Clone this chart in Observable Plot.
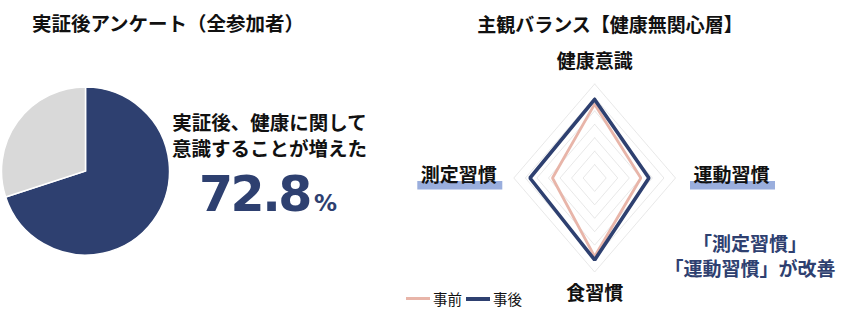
<!DOCTYPE html>
<html><head><meta charset="utf-8">
<script src="https://cdn.jsdelivr.net/npm/d3@7"></script>
<script src="https://cdn.jsdelivr.net/npm/@observablehq/plot@0.6"></script>
<style>
body{margin:0;background:#fff;}
#wrap{position:relative;width:852px;height:315px;overflow:hidden;font-family:"Noto Sans CJK JP",sans-serif;color:#111;}
.abs{position:absolute;white-space:nowrap;line-height:1;}
.c{transform:translateX(-50%);text-align:center;}
</style></head><body>
<div id="wrap"></div>
<script>
// ---- data ----
const pieCategories = ["増えた", "その他"];
const pieValues = [70, 30];
const pieColors = ["#2e4070", "#d9d9d9"];
const headlineValue = "72.8";
const radarAxes = ["健康意識", "運動習慣", "食習慣", "測定習慣"];
const seriesNames = ["事前", "事後"];
const beforeValues = [5.5, 4.0, 5.85, 3.65];
const afterValues = [5.85, 4.7, 6.1, 5.6];
const gridLevels = [1, 2, 3, 4, 5, 6, 7];
const highlightedAxes = ["運動習慣", "測定習慣"];
const seriesColors = ["#e8b5a9", "#2e4070"];
const navy = "#2e4070";

const wrap = document.getElementById("wrap");
function place(node, left, top, w, h) {
  const d = document.createElement("div");
  d.style.position = "absolute"; d.style.left = left + "px"; d.style.top = top + "px";
  d.style.width = w + "px"; d.style.height = h + "px";
  d.appendChild(node); wrap.appendChild(d);
}
// cy = vertical centre of the first line
function text(html, {x, cy, size, weight = "bold", color = "#111", center = true, lh = null}) {
  const d = document.createElement("div");
  d.className = "abs" + (center ? " c" : "");
  const L = lh || size;
  d.style.lineHeight = L + "px";
  d.style.left = x + "px"; d.style.top = (cy - L / 2) + "px";
  d.style.fontSize = size + "px"; d.style.fontWeight = weight; d.style.color = color;
  d.innerHTML = html; wrap.appendChild(d);
}

// ---- pie ----
const pieTable = pieCategories.map((c, i) => ({category: c, value: pieValues[i], color: pieColors[i]}));
function pieMark(index, scales) {
  const cx = scales.x(0), cy = scales.y(0), r = scales.x(1) - cx;
  const arcs = d3.pie().sort(null).value(d => d.value)(pieTable);
  const g = d3.create("svg:g").attr("transform", `translate(${cx},${cy})`);
  g.selectAll("path").data(arcs).join("path")
    .attr("d", d3.arc().innerRadius(0).outerRadius(r))
    .attr("fill", d => d.data.color).attr("stroke", "#fff").attr("stroke-width", 1.5);
  return g.node();
}
const piePlot = Plot.plot({
  width: 400, height: 315, margin: 0,
  x: {domain: [-1, 1], range: [1.5, 169.5], axis: null},
  y: {domain: [-1, 1], range: [255, 87], axis: null},
  marks: [
    Plot.dot([{x: -1, y: -1}, {x: 1, y: 1}], {x: "x", y: "y", r: 0, stroke: "none"}),
    pieMark
  ]
});
place(piePlot, 0, 0, 400, 315);

// ---- radar ----
const dirs = radarAxes.map((a, i) => ({sx: Math.sin(i * Math.PI / 2), sy: Math.cos(i * Math.PI / 2)}));
const gridData = gridLevels.flatMap(k => [0, 1, 2, 3, 0].map(i => ({level: k, x: k * dirs[i].sx, y: k * dirs[i].sy})));
const seriesData = seriesNames.flatMap((s, si) => {
  const vals = si === 0 ? beforeValues : afterValues;
  return [0, 1, 2, 3, 0].map(i => ({series: s, x: vals[i] * dirs[i].sx, y: vals[i] * dirs[i].sy}));
});
const maxLevel = d3.max(gridLevels);
const labelData = radarAxes.map((a, i) => ({axis: a, x: maxLevel * dirs[i].sx, y: maxLevel * dirs[i].sy}));
const labelOpts = [
  {textAnchor: "middle", dy: -22},
  {textAnchor: "start", dx: 18, dy: -2},
  {textAnchor: "middle", dy: 22},
  {textAnchor: "end", dx: -17, dy: -2}
];
function highlightMark(index, scales) {
  const g = d3.create("svg:g");
  labelData.forEach((d, i) => {
    if (!highlightedAxes.includes(d.axis)) return;
    const px = scales.x(d.x), py = scales.y(d.y);
    const x0 = dirs[i].sx > 0 ? px + 15 : px - 96;
    g.append("rect").attr("x", x0).attr("y", py + 3.5).attr("width", 85).attr("height", 8.5)
      .attr("fill", "#9aaedd");
  });
  return g.node();
}
const radarPlot = Plot.plot({
  width: 452, height: 315, margin: 0,
  x: {domain: [-7, 7], range: [113.3, 275], axis: null},
  y: {domain: [-7, 7], range: [271.5, 83.5], axis: null},
  marks: [
    Plot.line(gridData, {x: "x", y: "y", z: "level", stroke: "#e2e2e2", strokeWidth: 0.8}),
    Plot.line(seriesData.filter(d => d.series === seriesNames[0]), {x: "x", y: "y", stroke: seriesColors[0], strokeWidth: 2.8, strokeLinejoin: "miter"}),
    Plot.line(seriesData.filter(d => d.series === seriesNames[1]), {x: "x", y: "y", stroke: seriesColors[1], strokeWidth: 3.6, strokeLinejoin: "miter"}),
    highlightMark,
    ...labelData.map((d, i) => Plot.text([d], {x: "x", y: "y", text: "axis", fontSize: 19, fontWeight: "bold", fill: "#111",
      fontFamily: "Noto Sans CJK JP", ...labelOpts[i]}))
  ]
});
place(radarPlot, 400, 0, 452, 315);

// ---- texts ----
text("実証後アンケート（全参加者）", {x: 168, cy: 23, size: 19.5});
text("主観バランス【健康無関心層】", {x: 610, cy: 23, size: 19});
text("実証後、健康に関して<br>意識することが増えた", {x: 269.5, cy: 122, size: 19.5, lh: 26.5});
const big = document.createElement("div");
big.className = "abs";
big.style.fontFamily = "'DejaVu Sans', sans-serif";
big.style.left = "199px"; big.style.top = (215 - 0.928 * 49) + "px";
big.style.fontSize = "49px"; big.style.fontWeight = "bold"; big.style.color = navy; big.style.letterSpacing = "-2.5px";
big.innerHTML = headlineValue + `<span style="font-size:23px;letter-spacing:0;margin-left:4px">%</span>`;
wrap.appendChild(big);
text("「測定習慣」<br>「運動習慣」が改善", {x: 750, cy: 242, size: 19, color: navy, lh: 25});

// legend
const leg = document.createElement("div");
leg.className = "abs";
leg.style.left = "406px"; leg.style.top = (299 - 7.5) + "px"; leg.style.fontSize = "14.5px"; leg.style.fontWeight = "normal";
leg.style.display = "flex"; leg.style.alignItems = "center";
leg.innerHTML = seriesNames.map((s, i) =>
  `<span style="display:inline-block;width:24px;height:${i ? 3.5 : 3}px;background:${seriesColors[i]};margin-right:3px;margin-left:${i ? 4 : 0}px"></span><span>${s}</span>`).join("");
wrap.appendChild(leg);
</script>
</body></html>
